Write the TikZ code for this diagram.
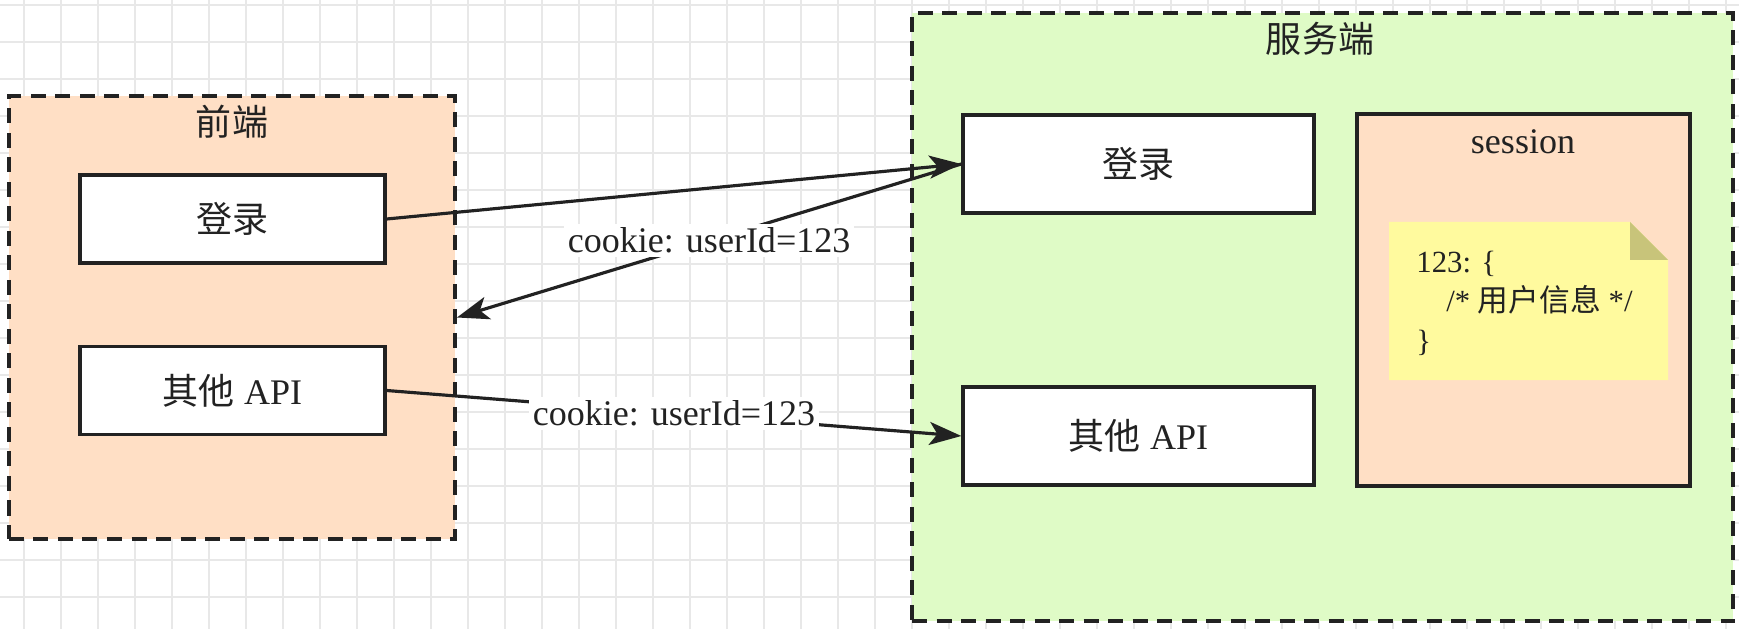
\documentclass[tikz,border=0pt]{standalone}
\usepackage{fontspec}
\setmainfont{Liberation Serif}
\newfontfamily\cjk{Noto Sans CJK SC}
\usetikzlibrary{arrows.meta}
\definecolor{linecol}{HTML}{222222}
\definecolor{peach}{HTML}{FFDFC5}
\definecolor{srvgreen}{HTML}{DFFBC6}
\definecolor{notefill}{HTML}{FFFA9E}
\definecolor{foldfill}{HTML}{C8C47A}
\definecolor{gridcol}{HTML}{E8E8E8}
\tikzset{
  box/.style={draw=linecol, line width=1.9pt, fill=white, minimum width=61mm,
    minimum height=17.6mm, text=linecol, font=\fontsize{20.5}{24}\selectfont},
  area/.style={draw=linecol, line width=2.2pt, dash pattern=on 3mm off 1.9mm},
  title/.style={text=linecol, font=\fontsize{20.5}{24}\selectfont},
  conn/.style={draw=linecol, line width=1.8pt,
    -{Stealth[length=6.4mm,width=4.6mm,inset=1.6mm]}},
  lbl/.style={fill=white, inner sep=2pt, text=linecol,
    font=\fontsize{20.5}{24}\selectfont},
  gridline/.style={draw=gridcol, line width=0.9pt}
}
\begin{document}
\begin{tikzpicture}[x=0.2mm,y=-0.2mm]
    \useasboundingbox (0,0) rectangle (1739,629);
    \fill[white] (0,0) rectangle (1739,629);
    %% grid
    \foreach \gx in {24,61,...,1739} \draw[gridline] (\gx,0) -- (\gx,629);
    \foreach \gy in {5,42,...,629} \draw[gridline] (0,\gy) -- (1739,\gy);
    %% front end
    \node[area, fill=peach, minimum width=89.2mm, minimum height=88.6mm] (fe) at (232,317.5) {};
    \node[title] (fetitle) at (232,122) {\cjk 前端};
    \node[box] (fl) at (232.5,219) {\cjk 登录};
    \node[box] (fa) at (232.5,390.5) {{\cjk 其他} API};
    %% server
    \node[area, fill=srvgreen, minimum width=164.2mm, minimum height=121.6mm] (se) at (1322.5,317) {};
    \node[title] (setitle) at (1320,39) {\cjk 服务端};
    \node[box, minimum width=70.2mm, minimum height=19.6mm] (sl) at (1138.5,164) {\cjk 登录};
    \node[box, minimum width=70.2mm, minimum height=19.6mm] (sa) at (1138.5,436) {{\cjk 其他} API};
    %% session store
    \node[box, fill=peach, minimum width=66.6mm, minimum height=74.4mm] (ss) at (1523.5,300) {};
    \node[title] (sstitle) at (1523,142) {session};
    \fill[notefill] (1389,222) -- (1630,222) -- (1668,260) -- (1668,380) -- (1389,380) -- cycle;
    \fill[foldfill] (1630,222) -- (1668,260) -- (1630,260) -- cycle;
    \node[anchor=west, align=left, inner sep=0pt, text=linecol,
      font=\fontsize{17.5}{22.5}\selectfont] (nt) at (1416,303)
      {123: \{\\\hspace*{6mm}/* {\cjk 用户信息} */\\\}};
    %% requests
    \draw[conn] (fl.east) -- (sl.west);
    \draw[conn] (sl.west) -- (fe.east) node[lbl,pos=0.5] {cookie: userId=123};
    \draw[conn] (fa.east) -- (sa.west) node[lbl,pos=0.5] {cookie: userId=123};
\end{tikzpicture}
\end{document}
